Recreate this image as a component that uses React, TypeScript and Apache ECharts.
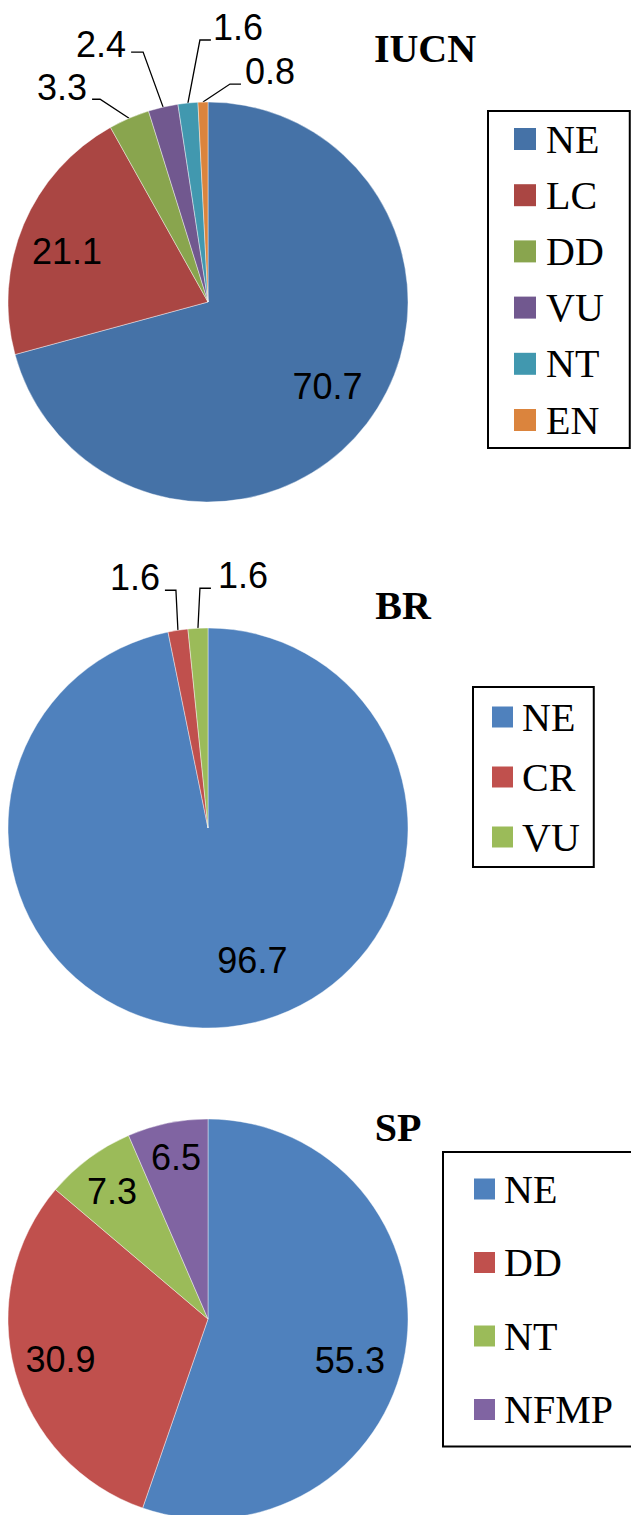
import React, { useEffect, useRef } from "react";
import * as echarts from "echarts";

// ---------------- data ----------------
const IUCN_CATEGORIES = ["NE", "LC", "DD", "VU", "NT", "EN"];
const IUCN_VALUES = [70.7, 21.1, 3.3, 2.4, 1.6, 0.8];

const BR_CATEGORIES = ["NE", "CR", "VU"];
const BR_VALUES = [96.7, 1.6, 1.6];

const SP_CATEGORIES = ["NE", "DD", "NT", "NFMP"];
const SP_VALUES = [55.3, 30.9, 7.3, 6.5];

const TITLES = ["IUCN", "BR", "SP"];

// ---------------- styles ----------------
const IUCN_COLORS = ["#4572A7", "#AA4643", "#89A54E", "#71588F", "#4198AF", "#DB843D"];
const BR_COLORS = ["#4F81BD", "#C0504D", "#9BBB59"];
const SP_COLORS = ["#4F81BD", "#C0504D", "#9BBB59", "#8064A2"];

const SANS = '"Liberation Sans", Arial, sans-serif';
const SERIF = '"Liberation Serif", "Times New Roman", serif';
const R = 200;
const LABEL_SIZE = 36;

// outside label placement, offsets relative to the slice's anchor on the rim
type Placement = { label: [number, number]; elbow: [number, number]; end: [number, number]; align: "left" | "right" };
const IUCN_OUTSIDE: Record<number, Placement> = {
  2: { label: [-42, -31], elbow: [-29, -19], end: [-37, -19], align: "right" },
  3: { label: [-37, -63], elbow: [-20, -55], end: [-32, -55], align: "right" },
  4: { label: [25, -76], elbow: [12, -63], end: [23, -63], align: "left" },
  5: { label: [42, -31], elbow: [27, -18], end: [38, -18], align: "left" },
};
const BR_OUTSIDE: Record<number, Placement> = {
  1: { label: [-18, -53], elbow: [-2, -40], end: [-13, -40], align: "right" },
  2: { label: [20, -53], elbow: [2, -40], end: [13, -40], align: "left" },
};
const SP_OUTSIDE: Record<number, Placement> = {};

// small nudges of the inside labels (Excel's best-fit placement)
const IUCN_NUDGE: Record<number, [number, number]> = { 0: [-2, -8], 1: [0, 9] };
const BR_NUDGE: Record<number, [number, number]> = { 0: [29, -20] };
const SP_NUDGE: Record<number, [number, number]> = { 0: [-9, 16], 3: [-1, -12], 2: [-5, -5] };

function pieSeries(
  names: string[],
  values: number[],
  colors: string[],
  center: [number, number],
  outside: Record<number, Placement>,
  nudge: Record<number, [number, number]>
) {
  const main = {
    type: "pie",
    center,
    radius: [0, R],
    startAngle: 90,
    clockwise: true,
    avoidLabelOverlap: false,
    silent: true,
    emphasis: { disabled: true },
    itemStyle: { borderColor: "rgba(255,255,255,0.7)", borderWidth: 0.6 },
    label: { show: false, position: "outside", fontSize: LABEL_SIZE, fontFamily: SANS, color: "#000", formatter: "{c}" },
    labelLine: { show: false, length: 10, length2: 10, lineStyle: { color: "#000", width: 1.3 } },
    data: names.map((n, i) => ({
      name: n,
      value: values[i],
      itemStyle: { color: colors[i] },
      label: { show: outside[i] !== undefined },
      labelLine: { show: outside[i] !== undefined },
    })),
    labelLayout: (p: any) => {
      const cfg = outside[p.dataIndex];
      if (!cfg || !p.labelLinePoints) return {};
      const [ax, ay] = p.labelLinePoints[0];
      return {
        x: ax + cfg.label[0],
        y: ay + cfg.label[1],
        align: cfg.align,
        verticalAlign: "middle",
        labelLinePoints: [
          [ax, ay],
          [ax + cfg.elbow[0], ay + cfg.elbow[1]],
          [ax + cfg.end[0], ay + cfg.end[1]],
        ],
      };
    },
  };
  const overlay = {
    type: "pie",
    center,
    radius: [100, R],
    startAngle: 90,
    clockwise: true,
    avoidLabelOverlap: false,
    silent: true,
    emphasis: { disabled: true },
    itemStyle: { color: "rgba(0,0,0,0)", borderWidth: 0 },
    label: { show: true, position: "inside", fontSize: LABEL_SIZE, fontFamily: SANS, color: "#000", formatter: "{c}" },
    labelLine: { show: false },
    data: names.map((n, i) => ({
      name: n,
      value: values[i],
      label: { show: outside[i] === undefined },
    })),
    labelLayout: (p: any) => {
      const d = nudge[p.dataIndex];
      return d ? { dx: d[0], dy: d[1] } : {};
    },
  };
  return [main, overlay];
}

function legend(
  names: string[],
  colors: string[],
  left: number,
  top: number,
  padding: number[],
  itemSize: number,
  gap: number,
  textPad: number
) {
  return {
    orient: "vertical",
    left,
    top,
    padding,
    itemGap: gap,
    itemWidth: itemSize,
    itemHeight: itemSize,
    icon: "rect",
    selectedMode: false,
    borderColor: "#000",
    borderWidth: 2,
    backgroundColor: "#fff",
    itemStyle: { borderWidth: 0 },
    textStyle: {
      fontSize: 40,
      lineHeight: 40,
      fontFamily: SERIF,
      color: "#000",
      padding: [0, 0, 0, textPad],
    },
    data: names.map((n, i) => ({ name: n, itemStyle: { color: colors[i], borderWidth: 0 } })),
  };
}

function titleText(text: string, x: number, y: number) {
  return {
    type: "text",
    x,
    y,
    style: {
      text,
      fontSize: 40,
      fontWeight: "bold",
      fontFamily: SERIF,
      fill: "#000",
      align: "center",
      verticalAlign: "middle",
    },
  };
}

export default function App() {
  const ref = useRef<HTMLDivElement>(null);
  useEffect(() => {
    if (!ref.current) return;
    const chart = echarts.init(ref.current, null, { renderer: "svg" });
    chart.setOption({
      animation: false,
      backgroundColor: "#fff",
      graphic: [
        titleText(TITLES[0], 425, 48.5),
        titleText(TITLES[1], 403, 605),
        titleText(TITLES[2], 398, 1127),
      ],
      legend: [
        legend(IUCN_CATEGORIES, IUCN_COLORS, 488, 111, [8, 26, 8, 26], 22, 16.2, 5),
        legend(BR_CATEGORIES, BR_COLORS, 473, 687, [10, 14, 10, 19], 21, 20, 4),
        legend(SP_CATEGORIES, SP_COLORS, 443, 1152, [17, 31, 17, 31], 21, 33.5, 4),
      ],
      series: [
        ...pieSeries(IUCN_CATEGORIES, IUCN_VALUES, IUCN_COLORS, [208, 302], IUCN_OUTSIDE, IUCN_NUDGE),
        ...pieSeries(BR_CATEGORIES, BR_VALUES, BR_COLORS, [208, 828], BR_OUTSIDE, BR_NUDGE),
        ...pieSeries(SP_CATEGORIES, SP_VALUES, SP_COLORS, [208, 1319], SP_OUTSIDE, SP_NUDGE),
      ],
    });
    return () => chart.dispose();
  }, []);
  return (
    <div
      ref={ref}
      style={{ position: "absolute", left: 0, top: 0, width: 631, height: 1515 }}
    />
  );
}
